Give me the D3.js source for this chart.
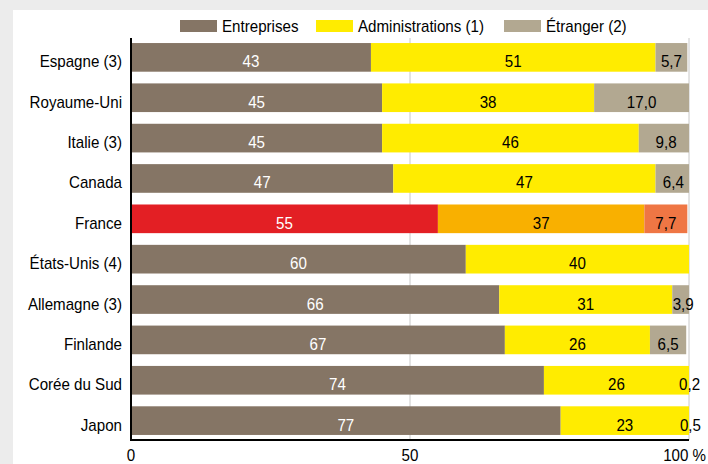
<!DOCTYPE html>
<html>
<head>
<meta charset="utf-8">
<script src="https://cdn.jsdelivr.net/npm/d3@7"></script>
<style>
  body { margin: 0; background: #ececec; }
  svg { display: block; }
  text { font-family: "Liberation Sans", Arial, sans-serif; font-size: 17px; }
</style>
</head>
<body>
<svg id="chart" width="708" height="464"></svg>
<script>
// pays, du haut vers le bas
var countries = ["Espagne (3)", "Royaume-Uni", "Italie (3)", "Canada", "France",
                 "États-Unis (4)", "Allemagne (3)", "Finlande", "Corée du Sud", "Japon"]
var entreprises = [43, 45, 45, 47, 55, 60, 66, 67, 74, 77]
var administrations = [51, 38, 46, 47, 37, 40, 31, 26, 26, 23]
var etranger = [5.7, 17.0, 9.8, 6.4, 7.7, 0, 3.9, 6.5, 0.2, 0.5]
var series = ["Entreprises", "Administrations (1)", "Étranger (2)"]
var ticks = [0, 50, 100]

var colors = ["#857565", "#ffec00", "#b2a891"]
var franceColors = ["#e31f24", "#f9b000", "#ef7644"]
var labelColors = ["#fff", "#000", "#000"]

const squeeze = 0.89   // police un peu étroite

const svg = d3.select('#chart')

// panneau blanc
svg.append('rect')
  .attr('x', 13).attr('y', 10)
  .attr('width', 708 - 13).attr('height', 464 - 10)
  .attr('fill', '#fff')

const x = d3.scaleLinear().domain([0, 100]).range([131, 689])
const y = d3.scaleBand()
  .domain(countries)
  .range([38, 440])
  .paddingInner(0.29)
  .paddingOuter(0.125)

function place(px, py) {
  return 'translate(' + px + ',' + py + ') scale(' + squeeze + ',1)'
}

svg.append('defs').append('clipPath').attr('id', 'plotclip')
  .append('rect')
  .attr('x', x(0)).attr('y', 38)
  .attr('width', x(100) - x(0)).attr('height', 402)

// grille verticale
svg.append('g')
  .selectAll('line')
  .data([50, 100])
  .enter()
  .append('line')
  .attr('x1', d => x(d)).attr('x2', d => x(d))
  .attr('y1', 38).attr('y2', 440)
  .attr('stroke', '#c8c8c8')
  .attr('stroke-width', 1)

var rows = countries.map(function (c, i) {
  var vals = [entreprises[i], administrations[i], etranger[i]]
  var start = 0
  return vals.map(function (v, k) {
    var seg = { country: c, k: k, v: v, x0: start, x1: start + v }
    start += v
    return seg
  })
})
var segs = [].concat.apply([], rows).filter(d => d.v > 0)

svg.append('g')
  .attr('clip-path', 'url(#plotclip)')
  .selectAll('rect')
  .data(segs)
  .enter()
  .append('rect')
  .attr('x', d => x(d.x0))
  .attr('width', d => x(d.x1) - x(d.x0))
  .attr('y', d => y(d.country))
  .attr('height', y.bandwidth())
  .attr('fill', d => d.country == "France" ? franceColors[d.k] : colors[d.k])

function fmt(d) {
  return d.k == 2 ? d.v.toFixed(1).replace('.', ',') : String(d.v)
}

const textShift = 10  // ligne de base sous le centre de la barre

svg.append('g')
  .selectAll('text')
  .data(segs)
  .enter()
  .append('text')
  .attr('transform', d => place((x(d.x0) + x(d.x1)) / 2, y(d.country) + y.bandwidth() / 2 + textShift))
  .attr('text-anchor', 'middle')
  .attr('fill', d => labelColors[d.k])
  .text(fmt)

// axes
svg.append('line')
  .attr('x1', x(0)).attr('x2', x(0))
  .attr('y1', 38).attr('y2', 441)
  .attr('stroke', '#000').attr('stroke-width', 2)
svg.append('line')
  .attr('x1', x(0) - 1).attr('x2', x(100))
  .attr('y1', 440).attr('y2', 440)
  .attr('stroke', '#000').attr('stroke-width', 2)

svg.append('g')
  .selectAll('text')
  .data(countries)
  .enter()
  .append('text')
  .attr('transform', d => place(122, y(d) + y.bandwidth() / 2 + textShift))
  .attr('text-anchor', 'end')
  .attr('fill', '#000')
  .text(d => d)

svg.append('g')
  .selectAll('text')
  .data(ticks)
  .enter()
  .append('text')
  .attr('transform', d => d == 100 ? place(706, 461) : place(x(d), 461))
  .attr('text-anchor', d => d == 100 ? 'end' : 'middle')
  .text(d => d == 100 ? "100 %" : d)

// légende
var legendX = [180, 316, 504]
const legend = svg.append('g')
  .selectAll('g')
  .data(series)
  .enter()
  .append('g')
  .attr('transform', (d, i) => 'translate(' + legendX[i] + ',20)')
legend.append('rect')
  .attr('width', 37).attr('height', 12)
  .attr('fill', (d, i) => colors[i])
legend.append('text')
  .attr('transform', place(42, 12))
  .text(d => d)
</script>
</body>
</html>
